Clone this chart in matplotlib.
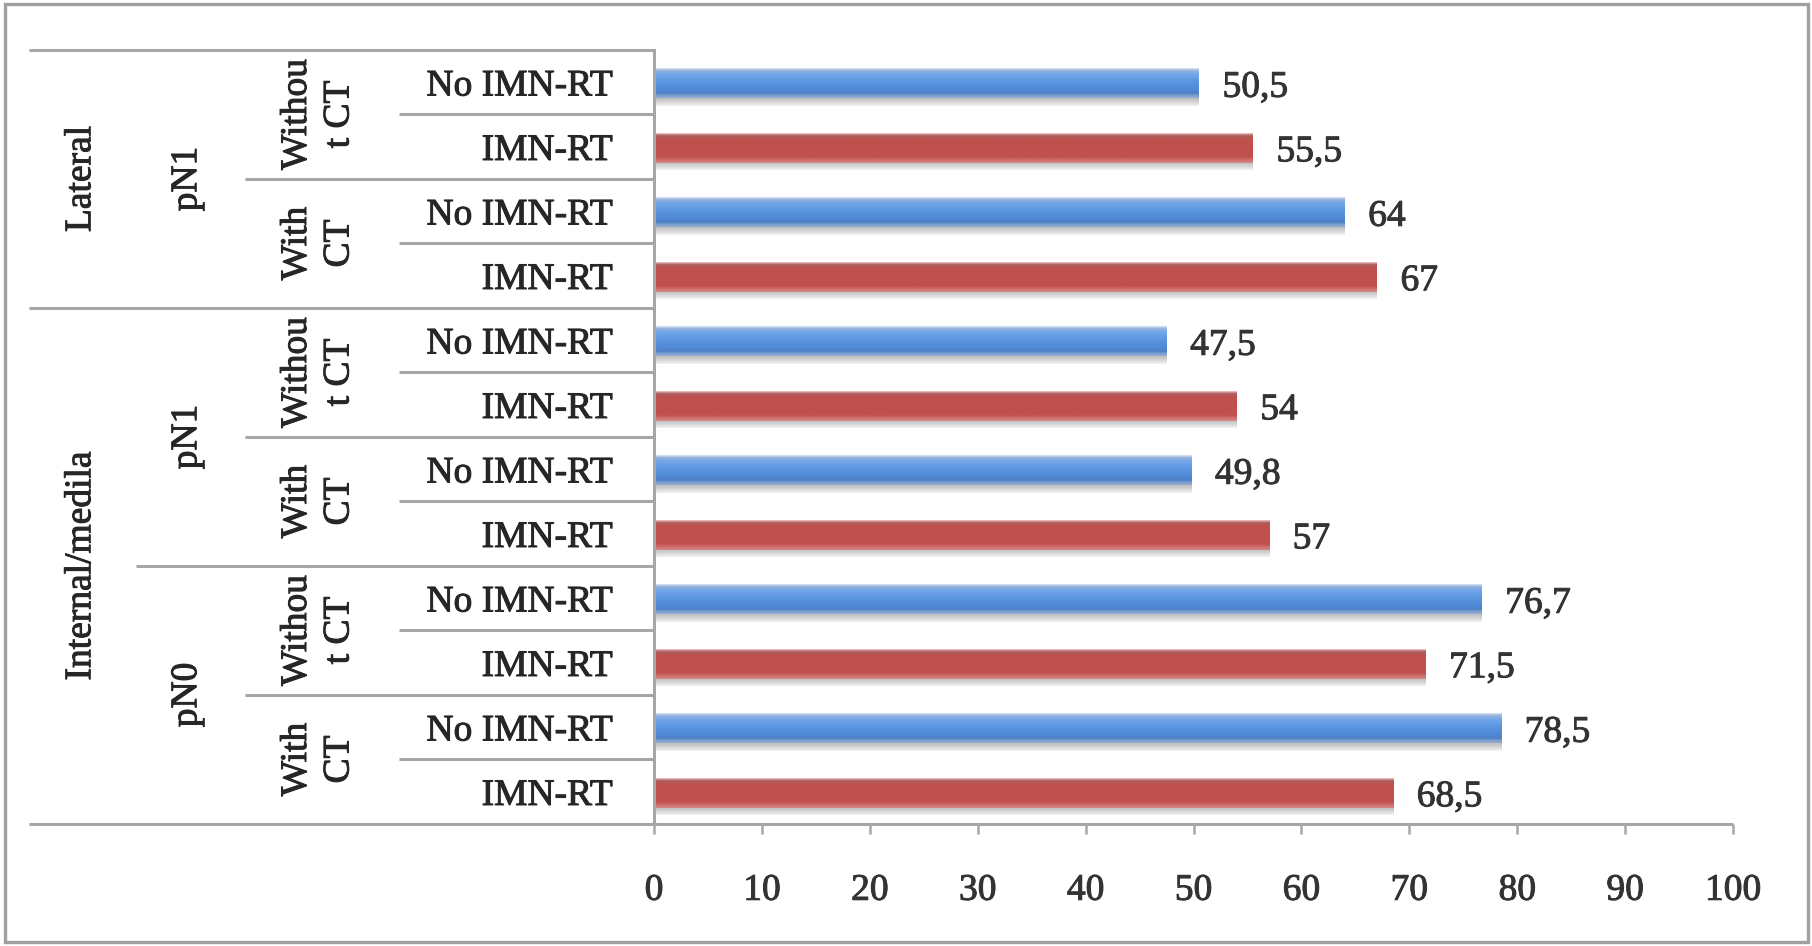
import numpy as np
import matplotlib
matplotlib.use("Agg")
import matplotlib.pyplot as plt
import matplotlib.patheffects as pe
from matplotlib.colors import LinearSegmentedColormap
from matplotlib.transforms import blended_transform_factory
from matplotlib.patches import Rectangle

# ---- data (top to bottom) ----
locations = ["Lateral", "Internal/medila"]
location_spans = [4, 8]
nodal_status = ["pN1", "pN1", "pN0"]
nodal_spans = [4, 4, 4]
chemo = ["Withou\nt CT", "With\nCT", "Withou\nt CT", "With\nCT", "Withou\nt CT", "With\nCT"]
treatment = ["No IMN-RT", "IMN-RT"] * 6
values = [50.5, 55.5, 64, 67, 47.5, 54, 49.8, 57, 76.7, 71.5, 78.5, 68.5]
xticks = list(range(0, 101, 10))

W, H = 1812, 946
plt.rcParams["font.family"] = ["Liberation Serif", "DejaVu Serif"]
FS = 27
TXT = "#262626"
NUM = "#333333"
LINE = "#a6a6a6"
heavy = [pe.withStroke(linewidth=0.7, foreground=TXT)]
heavy_num = [pe.withStroke(linewidth=0.7, foreground=NUM)]

fig = plt.figure(figsize=(W / 100, H / 100), dpi=100)
fig.patch.set_facecolor("white")

def fx(px):
    return px / W

ax_left, ax_right, ax_top, ax_bottom = 654, 1733, 50, 824
ax = fig.add_axes([fx(ax_left), (H - ax_bottom) / H,
                   (ax_right - ax_left) / W, (ax_bottom - ax_top) / H])
ax.set_facecolor("none")
n = len(values)

# gradient colormaps for the bars (top edge -> bottom edge)
blue_cmap = LinearSegmentedColormap.from_list(
    "blue_bar", [(0.0, "#d6e8fb"), (0.08, "#9ab0d8"), (0.2, "#72a6ea"),
                 (0.5, "#5893de"), (0.72, "#5089d6"), (0.84, "#4f80c6"),
                 (0.92, "#7ea0d0"), (1.0, "#93acd2")])
red_cmap = LinearSegmentedColormap.from_list(
    "red_bar", [(0.0, "#f7c8c8"), (0.08, "#a86060"), (0.2, "#c0504d"),
                (0.8, "#c0504d"), (0.88, "#cc6866"), (1.0, "#d58a88")])
shadow_cmap = LinearSegmentedColormap.from_list(
    "shadow", ["#bdbdbd", "#d6d6d6", "#f4f4f4"])

grad = np.linspace(0, 1, 128).reshape(-1, 1)
bar_h = 0.45
shadow_h = 0.12
offset = 0.02
for i, v in enumerate(values):
    cmap = blue_cmap if treatment[i].startswith("No") else red_cmap
    yc = i + 0.5 + offset
    top, bot = yc - bar_h / 2, yc + bar_h / 2
    ax.imshow(grad, extent=(0, v, bot + shadow_h, bot), cmap=shadow_cmap,
              aspect="auto", origin="upper", zorder=2, interpolation="bilinear")
    ax.imshow(grad, extent=(0, v, bot, top), cmap=cmap,
              aspect="auto", origin="upper", zorder=3, interpolation="bilinear")
    label = f"{v:g}".replace(".", ",")
    ax.annotate(label, xy=(v, yc), xytext=(17, 0), textcoords="offset points",
                ha="left", va="center_baseline", fontsize=FS, color=NUM,
                path_effects=heavy_num)

ax.set_xlim(0, 100)
ax.set_ylim(n, 0)
ax.set_yticks([])
ax.set_xticks(xticks)
ax.set_xticklabels([str(t) for t in xticks], fontsize=FS, color=NUM)
for lab in ax.get_xticklabels():
    lab.set_path_effects(heavy_num)
ax.tick_params(axis="x", direction="out", length=7.5, width=1.8, color=LINE, pad=28)
for s in ["top", "right", "bottom"]:
    ax.spines[s].set_visible(False)
ax.spines["left"].set_color(LINE)
ax.spines["left"].set_linewidth(2.2)
ax.spines["left"].set_zorder(4)

# header table to the left of the bars
tr = blended_transform_factory(fig.transFigure, ax.transData)

def hline(y, x0, x1):
    ax.plot([fx(x0), fx(x1)], [y, y], transform=tr, color=LINE, lw=2.2,
            clip_on=False, solid_capstyle="butt", zorder=4)

hline(0, 29, ax_left)
hline(n, 29, ax_right)

# location level
loc_bounds = set(np.cumsum(location_spans).tolist())
start = 0
for name, span in zip(locations, location_spans):
    ax.text(fx(81), start + span / 2, name, transform=tr, rotation=90,
            ha="center", va="center", fontsize=FS, color=TXT, path_effects=heavy)
    if start > 0:
        hline(start, 29, ax_left)
    start += span

# nodal status level
start = 0
for name, span in zip(nodal_status, nodal_spans):
    ax.text(fx(187), start + span / 2, name, transform=tr, rotation=90,
            ha="center", va="center", fontsize=FS, color=TXT, path_effects=heavy)
    if start > 0 and start not in loc_bounds:
        hline(start, 136, ax_left)
    start += span

# chemotherapy level
for k, name in enumerate(chemo):
    ax.text(fx(318), 2 * k + 1, name, transform=tr, rotation=90,
            ha="center", va="center", multialignment="center",
            fontsize=FS, color=TXT, linespacing=1.3, path_effects=heavy)
    y = 2 * k
    if y > 0 and y % 4 != 0:
        hline(y, 245, ax_left)

# treatment level
for i, name in enumerate(treatment):
    ax.text(fx(613), i + 0.5, name, transform=tr, ha="right", va="center_baseline",
            fontsize=FS, color=TXT, path_effects=heavy)
for i in range(1, n, 2):
    hline(i, 399, ax_left)

# outer frame
fig.add_artist(Rectangle((fx(5), 4 / H), fx(1803), 938 / H, transform=fig.transFigure,
                         fill=False, edgecolor="#a0a0a0", lw=2.4))

fig.savefig("out.png", dpi=100, facecolor="white")
